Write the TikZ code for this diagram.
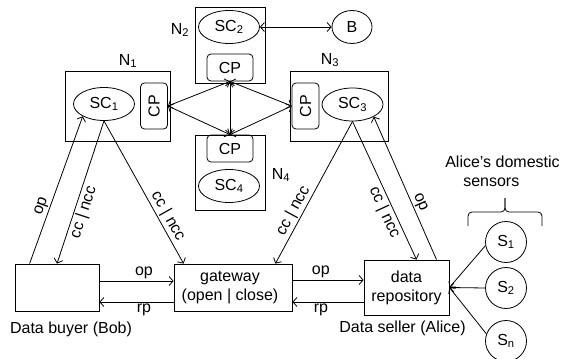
\documentclass[tikz,border=0pt]{standalone}
\usepackage{fontspec}
\setmainfont{Liberation Sans}
\usetikzlibrary{arrows.meta,shapes.geometric}
\begin{document}
\begin{tikzpicture}[x=1pt,y=-1pt,
  font=\fontsize{16}{19}\selectfont,
  line width=0.8pt,
  >={Straight Barb[length=4pt,width=9pt]},
  box/.style={draw, inner sep=0pt},
  sc/.style={draw, ellipse, inner sep=0pt, minimum width=61pt, minimum height=33pt},
  cp/.style={draw, rounded corners=4pt, inner sep=0pt},
  cph/.style={cp, minimum width=46pt, minimum height=27pt},
  cpv/.style={cp, minimum width=27pt, minimum height=46pt},
  sens/.style={draw, circle, inner sep=0pt, minimum size=41pt},
  lbl/.style={inner sep=1.5pt},
  arr/.style={->},
  biarr/.style={<->}]
\useasboundingbox (0,0) rectangle (561,358);

% network nodes
\node[box, minimum width=105pt, minimum height=70pt] (N1) at (117.5,106) {};
\node[sc] (SC1) at (104,104) {SC\textsubscript{1}};
\node[cpv] (CP1) at (154,106) {\rotatebox{90}{CP}};
\node (L1) at (128,61) {N\textsubscript{1}};

\node[box, minimum width=70pt, minimum height=76pt] (N2) at (230,45) {};
\node[sc] (SC2) at (229,27) {SC\textsubscript{2}};
\node[cph] (CP2) at (230,67.5) {CP};
\node (L2) at (180,30) {N\textsubscript{2}};

\node[box, minimum width=98pt, minimum height=70pt] (N3) at (339,106) {};
\node[cpv] (CP3) at (305.5,106) {\rotatebox{90}{CP}};
\node[sc] (SC3) at (352.5,104.5) {SC\textsubscript{3}};
\node (L3) at (330,60) {N\textsubscript{3}};

\node[box, minimum width=70pt, minimum height=75pt] (N4) at (230,172.5) {};
\node[cph] (CP4) at (230,148.5) {CP};
\node[sc] (SC4) at (229,186) {SC\textsubscript{4}};
\node (L4) at (281,175) {N\textsubscript{4}};

\node[draw, ellipse, inner sep=0pt, minimum width=40pt, minimum height=33pt] (B) at (352,27) {B};

% CP interconnections
\draw[biarr] (CP2.south) -- (CP4.north);
\draw[biarr] (CP2.south) -- (CP1.east);
\draw[biarr] (CP2.south) -- (CP3.west);
\draw[biarr] (CP4.north) -- (CP1.east);
\draw[biarr] (CP4.north) -- (CP3.west);
\draw[biarr] (SC2.east) -- (B.west);

% bottom boxes
\node[box, minimum width=84pt, minimum height=47pt] (buyer) at (57,287.5) {};
\node (buyerl) at (71,329) {Data buyer (Bob)};
\node[box, minimum width=118pt, minimum height=47pt, align=center] (gw) at (233,287.5) {\hspace*{-6pt}gateway\\\hspace*{-6pt}(open | close)};
\node[box, minimum width=85pt, minimum height=55pt, align=center] (repo) at (406.5,287.5) {data\\repository};
\node (repol) at (402.5,328) {Data seller (Alice)};

% horizontal flows
\draw[arr] (buyer.east |- 0,281) -- node[lbl, above, pos=0.6] {op} (gw.west |- 0,281);
\draw[arr] (gw.west |- 0,302) -- node[lbl, below, pos=0.4] {rp} (buyer.east |- 0,302);
\draw[arr] (gw.east |- 0,280) -- node[lbl, above, pos=0.4] {op} (repo.west |- 0,280);
\draw[arr] (repo.west |- 0,302) -- node[lbl, below, pos=0.6] {rp} (gw.east |- 0,302);

% diagonal flows
\draw[arr] ([xshift=15pt]buyer.north west) -- node[lbl, above, sloped, pos=0.37] {op} (SC1.210);
\draw[arr] (SC1.south) -- node[lbl, below, sloped, pos=0.62] {cc | ncc} (buyer.north);
\draw[arr] (SC1.south) -- node[lbl, above, sloped, pos=0.7] {cc | ncc} ([xshift=10pt]gw.north west);
\draw[arr] (SC3.south) -- node[lbl, above, sloped, pos=0.66] {cc | ncc} ([xshift=-17pt]gw.north east);
\draw[arr] (SC3.south) -- node[lbl, below, sloped, pos=0.63] {cc | ncc} ([xshift=10pt]repo.north);
\draw[arr] ([xshift=30pt]repo.north) -- node[lbl, above, sloped, pos=0.38] {op} (SC3.-30);

% sensors
\node[sens] (S1) at (506,242) {S\textsubscript{1}};
\node[sens] (S2) at (506,288) {S\textsubscript{2}};
\node[sens] (Sn) at (506,341) {S\textsubscript{n}};
\draw[arr] (S1.190) -- (repo.east);
\draw[arr] (S2.west) -- (repo.east);
\draw[arr] (Sn.160) -- (repo.east);

% brace and caption
\draw[rounded corners=4pt] (468,226) -- (468,212) -- (505,212) -- (505,198);
\draw[rounded corners=4pt] (542,226) -- (542,212) -- (505,212) -- (505,198);
\node[align=left, inner sep=0pt] (cap) at (502.5,171) {Alice's domestic\\\hspace*{18pt}sensors};
\end{tikzpicture}
\end{document}
